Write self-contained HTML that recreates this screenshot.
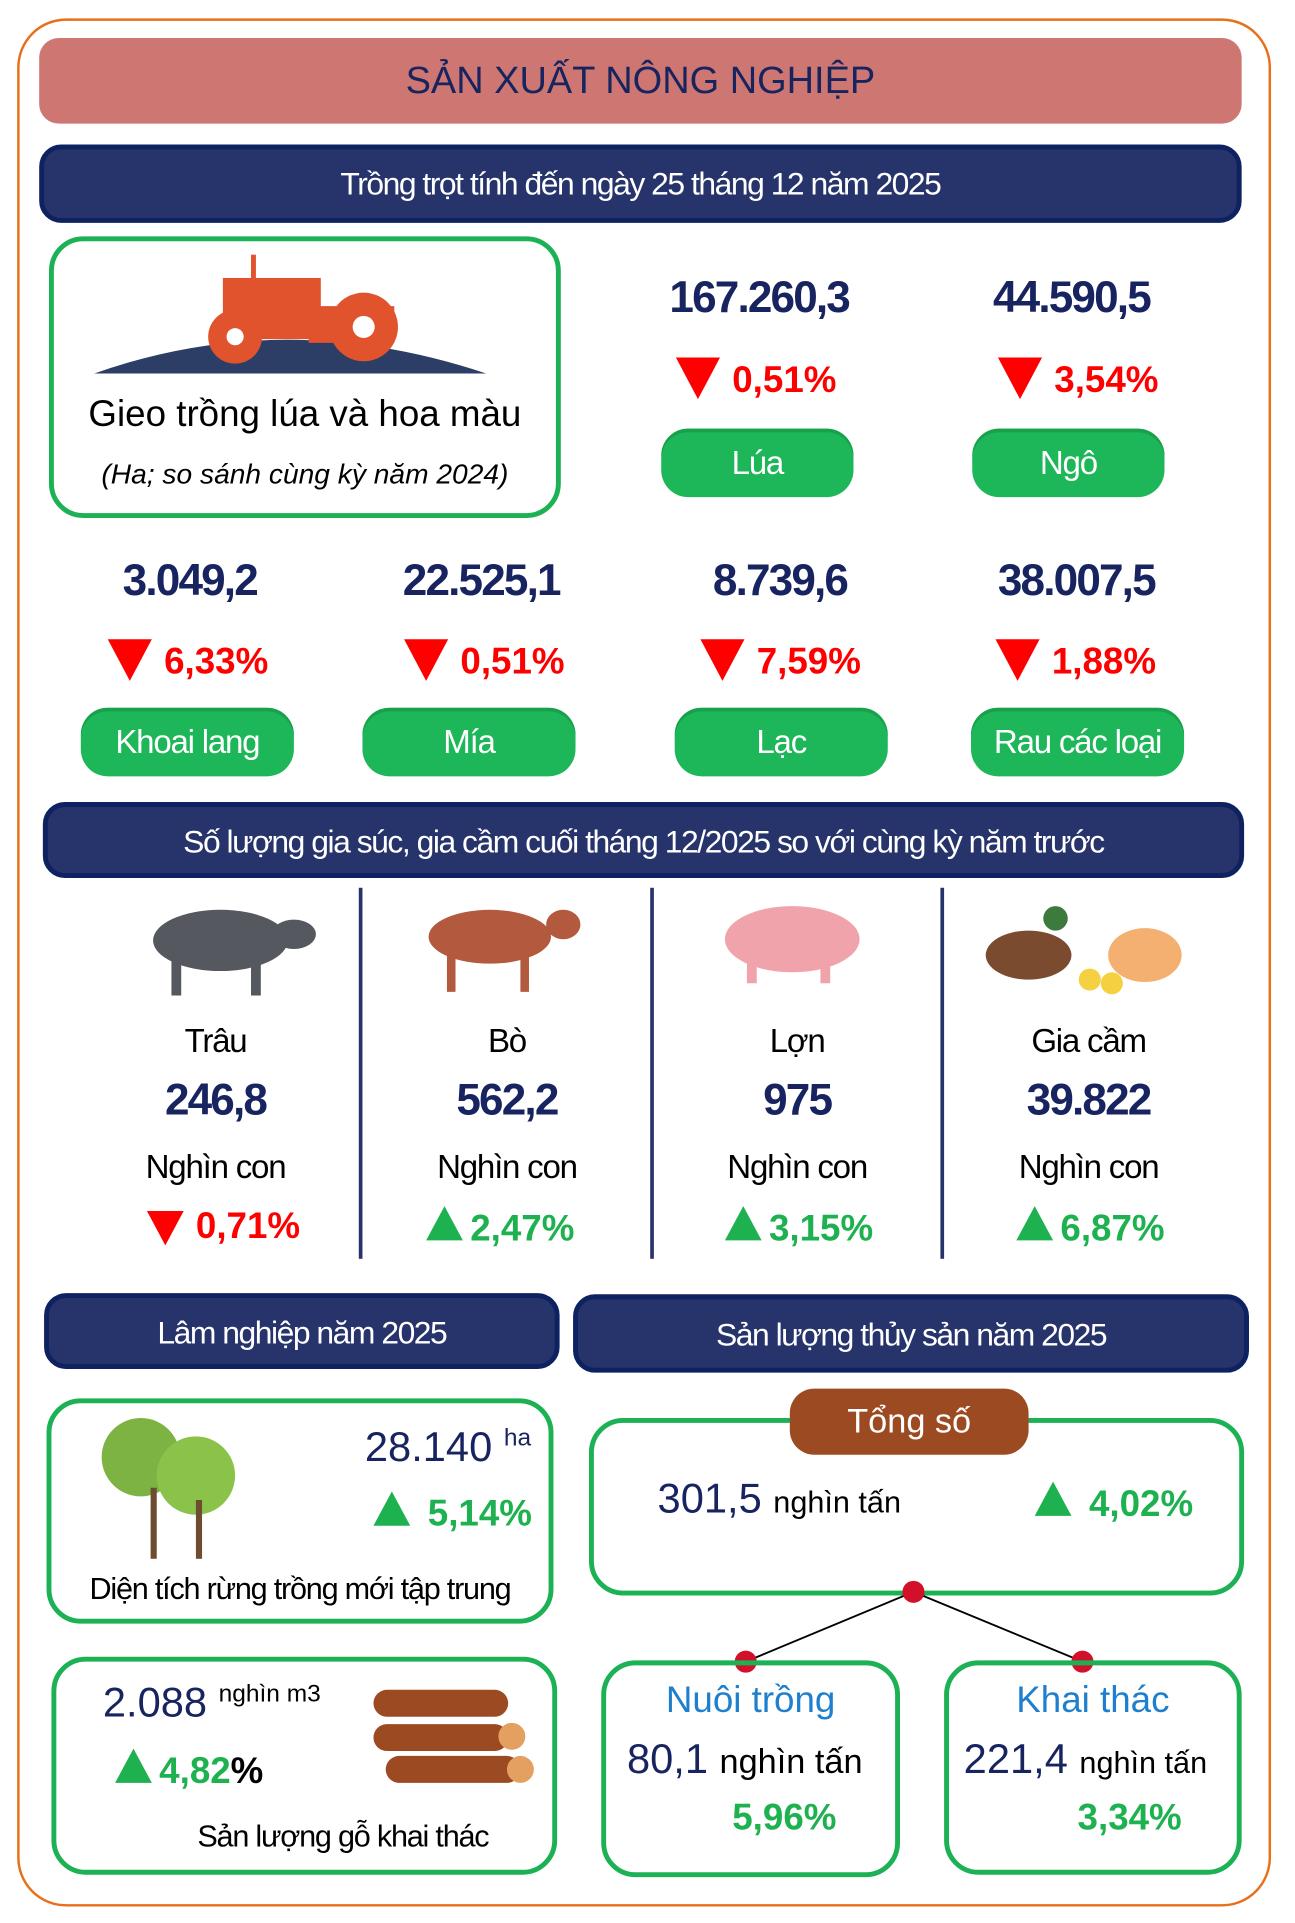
<!DOCTYPE html>
<html><head><meta charset="utf-8"><style>
html,body{margin:0;padding:0;background:#fff;}
body{width:1295px;height:1923px;overflow:hidden;position:relative;}
#w{position:absolute;left:0;top:0;width:1050px;height:1559px;transform:scale(1.2245,1.2245);transform-origin:0 0;font-family:"Liberation Sans Narrow","Liberation Sans",sans-serif;}
.a{position:absolute;}
.c{text-align:center;}
.bar{position:absolute;background:#27336b;border:4px solid #0e2160;border-radius:18px;color:#fff;text-align:center;font-size:26px;letter-spacing:-1.2px;box-sizing:border-box;}
.gb{position:absolute;border:4px solid #1cb154;border-radius:28px;box-sizing:border-box;}
.pill{position:absolute;background:#1db659;border-radius:22px;color:#fff;text-align:center;font-size:27px;height:56px;line-height:56px;letter-spacing:-1px;box-shadow:0 3px 0 #18a04c inset;}
.num{position:absolute;color:#17245f;font-weight:bold;font-size:36px;text-align:center;letter-spacing:-1.5px;}
.pct{position:absolute;color:#f00;font-weight:bold;font-size:30px;}
.pg{position:absolute;color:#1eb150;font-weight:bold;font-size:30px;}
.dn{display:inline-block;width:0;height:0;border-left:18px solid transparent;border-right:18px solid transparent;border-top:34px solid #f00;vertical-align:-6px;margin-right:10px;}
.up{display:inline-block;width:0;height:0;border-left:15px solid transparent;border-right:15px solid transparent;border-bottom:28px solid #1eb150;vertical-align:0px;margin-right:6px;}
.lab{position:absolute;color:#000;font-size:27px;text-align:center;letter-spacing:-1px;}
.vl{position:absolute;width:3px;background:#27336b;}
</style></head><body><div id="w">
<div class="a" style="left:14px;top:15px;width:1020px;height:1538px;border:2px solid #e8701b;border-radius:40px;"></div>
<div class="a c" style="left:32px;top:31px;width:982px;height:70px;background:#ce7672;border-radius:16px;color:#17245f;font-size:31px;line-height:70px;">SẢN XUẤT NÔNG NGHIỆP</div>
<div class="bar" style="left:32px;top:118px;width:982px;height:64px;line-height:56px;">Trồng trọt tính đến ngày 25 tháng 12 năm 2025</div>

<div class="gb" style="left:40px;top:193px;width:418px;height:230px;"></div>
<svg class="a" style="left:72px;top:205px" width="330" height="105"><path d="M5 100 Q160 45 325 100 Z" fill="#2c3e66"/><rect x="110" y="22" width="80" height="50" fill="#e0532c"/><rect x="180" y="45" width="70" height="30" fill="#e0532c"/><rect x="133" y="3" width="4" height="22" fill="#e0532c"/><circle cx="120" cy="70" r="22" fill="#e0532c"/><circle cx="120" cy="70" r="7" fill="#fff"/><circle cx="225" cy="62" r="28" fill="#e0532c"/><circle cx="225" cy="62" r="9" fill="#fff"/></svg>
<div class="a c" style="left:44px;top:322px;width:410px;font-size:30px;color:#000;">Gieo trồng lúa và hoa màu</div>
<div class="a c" style="left:44px;top:374px;width:410px;font-size:23px;font-style:italic;color:#000;">(Ha; so sánh cùng kỳ năm 2024)</div>

<div class="num" style="left:520px;top:222px;width:200px;">167.260,3</div>
<div class="num" style="left:775px;top:222px;width:200px;">44.590,5</div>
<div class="pct" style="left:552px;top:292px;"><span class="dn"></span>0,51%</div>
<div class="pct" style="left:815px;top:292px;"><span class="dn"></span>3,54%</div>
<div class="pill" style="left:540px;top:350px;width:157px;">Lúa</div>
<div class="pill" style="left:794px;top:350px;width:157px;">Ngô</div>

<div class="num" style="left:55px;top:453px;width:200px;">3.049,2</div>
<div class="num" style="left:293px;top:453px;width:200px;">22.525,1</div>
<div class="num" style="left:537px;top:453px;width:200px;">8.739,6</div>
<div class="num" style="left:779px;top:453px;width:200px;">38.007,5</div>
<div class="pct" style="left:88px;top:522px;"><span class="dn"></span>6,33%</div>
<div class="pct" style="left:330px;top:522px;"><span class="dn"></span>0,51%</div>
<div class="pct" style="left:572px;top:522px;"><span class="dn"></span>7,59%</div>
<div class="pct" style="left:813px;top:522px;"><span class="dn"></span>1,88%</div>
<div class="pill" style="left:66px;top:578px;width:174px;">Khoai lang</div>
<div class="pill" style="left:296px;top:578px;width:174px;">Mía</div>
<div class="pill" style="left:551px;top:578px;width:174px;">Lạc</div>
<div class="pill" style="left:793px;top:578px;width:174px;">Rau các loại</div>

<div class="bar" style="left:35px;top:655px;width:981px;height:62px;line-height:56px;">Số lượng gia súc, gia cầm cuối tháng 12/2025 so với cùng kỳ năm trước</div>
<div class="vl" style="left:293px;top:725px;height:303px;"></div>
<div class="vl" style="left:531px;top:725px;height:303px;"></div>
<div class="vl" style="left:768px;top:725px;height:303px;"></div>
<svg class="a" style="left:105px;top:728px" width="160" height="90"><ellipse cx="75" cy="40" rx="55" ry="25" fill="#55595f"/><ellipse cx="135" cy="35" rx="18" ry="12" fill="#55595f"/><rect x="35" y="55" width="8" height="30" fill="#55595f"/><rect x="100" y="55" width="8" height="30" fill="#55595f"/></svg>
<svg class="a" style="left:340px;top:730px" width="140" height="85"><ellipse cx="60" cy="35" rx="50" ry="22" fill="#b3593d"/><ellipse cx="120" cy="25" rx="14" ry="12" fill="#b3593d"/><rect x="25" y="50" width="7" height="30" fill="#b3593d"/><rect x="85" y="50" width="7" height="30" fill="#b3593d"/></svg>
<svg class="a" style="left:585px;top:735px" width="135" height="70"><ellipse cx="62" cy="32" rx="55" ry="27" fill="#f0a3ab"/><rect x="25" y="50" width="8" height="18" fill="#f0a3ab"/><rect x="85" y="50" width="8" height="18" fill="#f0a3ab"/></svg>
<svg class="a" style="left:800px;top:735px" width="175" height="80"><ellipse cx="40" cy="45" rx="35" ry="20" fill="#7a4b2e"/><circle cx="62" cy="15" r="10" fill="#3d7a3d"/><ellipse cx="135" cy="45" rx="30" ry="22" fill="#f3b070"/><circle cx="90" cy="65" r="9" fill="#f5d040"/><circle cx="108" cy="68" r="9" fill="#f5d040"/></svg>
<div class="lab" style="left:76px;top:835px;width:200px;">Trâu</div>
<div class="lab" style="left:314px;top:835px;width:200px;">Bò</div>
<div class="lab" style="left:551px;top:835px;width:200px;">Lợn</div>
<div class="lab" style="left:789px;top:835px;width:200px;">Gia cầm</div>
<div class="num" style="left:76px;top:877px;width:200px;">246,8</div>
<div class="num" style="left:314px;top:877px;width:200px;">562,2</div>
<div class="num" style="left:551px;top:877px;width:200px;">975</div>
<div class="num" style="left:789px;top:877px;width:200px;">39.822</div>
<div class="lab" style="left:76px;top:938px;width:200px;">Nghìn con</div>
<div class="lab" style="left:314px;top:938px;width:200px;">Nghìn con</div>
<div class="lab" style="left:551px;top:938px;width:200px;">Nghìn con</div>
<div class="lab" style="left:789px;top:938px;width:200px;">Nghìn con</div>
<div class="pct" style="left:120px;top:985px;"><span class="dn" style="border-left-width:15px;border-right-width:15px;border-top-width:28px;"></span>0,71%</div>
<div class="pg" style="left:348px;top:985px;"><span class="up"></span>2,47%</div>
<div class="pg" style="left:592px;top:985px;"><span class="up"></span>3,15%</div>
<div class="pg" style="left:830px;top:985px;"><span class="up"></span>6,87%</div>

<div class="bar" style="left:36px;top:1056px;width:421px;height:62px;line-height:56px;">Lâm nghiệp năm 2025</div>
<div class="bar" style="left:468px;top:1057px;width:552px;height:64px;line-height:58px;">Sản lượng thủy sản  năm 2025</div>

<div class="gb" style="left:38px;top:1142px;width:414px;height:184px;"></div>
<svg class="a" style="left:75px;top:1155px" width="125" height="120"><circle cx="40" cy="35" r="32" fill="#7cb342"/><circle cx="85" cy="50" r="32" fill="#8bc34a"/><rect x="48" y="60" width="5" height="58" fill="#6d4c2f"/><rect x="85" y="70" width="5" height="48" fill="#6d4c2f"/></svg>
<div class="a" style="left:298px;top:1163px;color:#17245f;font-size:34px;">28.140 <sup style="font-size:20px">ha</sup></div>
<div class="pg" style="left:305px;top:1218px;"><span class="up"></span> 5,14%</div>
<div class="lab" style="left:45px;top:1284px;width:400px;font-size:25px;">Diện tích rừng trồng mới tập trung</div>

<div class="gb" style="left:42px;top:1353px;width:413px;height:178px;"></div>
<div class="a" style="left:84px;top:1372px;color:#17245f;font-size:34px;">2.088 <sup style="font-size:20px;color:#000">nghìn m3</sup></div>
<div class="pg" style="left:94px;top:1428px;"><span class="up"></span>4,82<span style="color:#000">%</span></div>
<svg class="a" style="left:300px;top:1370px" width="140" height="95"><g fill="#9c4a22"><rect x="5" y="10" width="110" height="22" rx="11"/><rect x="5" y="38" width="110" height="22" rx="11"/><rect x="15" y="64" width="110" height="22" rx="11"/></g><circle cx="118" cy="48" r="11" fill="#e3a060"/><circle cx="125" cy="75" r="11" fill="#e3a060"/></svg>
<div class="lab" style="left:130px;top:1486px;width:300px;font-size:25px;">Sản lượng gỗ khai thác</div>

<div class="gb" style="left:481px;top:1158px;width:535px;height:145px;"></div>
<div class="a c" style="left:645px;top:1134px;width:195px;height:54px;line-height:54px;background:#9c4a22;border-radius:20px;color:#fff;font-size:28px;">Tổng số</div>
<div class="a" style="left:537px;top:1205px;color:#17245f;font-size:34px;">301,5 <span style="font-size:25px;color:#000">nghìn tấn</span></div>
<div class="pg" style="left:845px;top:1210px;"><span class="up"></span> 4,02%</div>
<svg class="a" style="left:0;top:0" width="1050" height="1559"><line x1="746" y1="1300" x2="609" y2="1357" stroke="#000" stroke-width="1.5"/><line x1="746" y1="1300" x2="884" y2="1357" stroke="#000" stroke-width="1.5"/><circle cx="746" cy="1300" r="9" fill="#d3102a"/><circle cx="609" cy="1357" r="9" fill="#d3102a"/><circle cx="884" cy="1357" r="9" fill="#d3102a"/></svg>
<div class="gb" style="left:491px;top:1356px;width:244px;height:177px;"></div>
<div class="gb" style="left:771px;top:1356px;width:243px;height:175px;"></div>
<div class="a c" style="left:491px;top:1372px;width:244px;color:#1e7fce;font-size:30px;">Nuôi trồng</div>
<div class="a c" style="left:771px;top:1372px;width:243px;color:#1e7fce;font-size:30px;">Khai thác</div>
<div class="a" style="left:512px;top:1418px;color:#17245f;font-size:34px;">80,1 <span style="font-size:28px;color:#000">nghìn tấn</span></div>
<div class="a" style="left:787px;top:1418px;color:#17245f;font-size:34px;">221,4 <span style="font-size:25px;color:#000">nghìn tấn</span></div>
<div class="pg" style="left:598px;top:1468px;">5,96%</div>
<div class="pg" style="left:880px;top:1468px;">3,34%</div>
</div></body></html>
